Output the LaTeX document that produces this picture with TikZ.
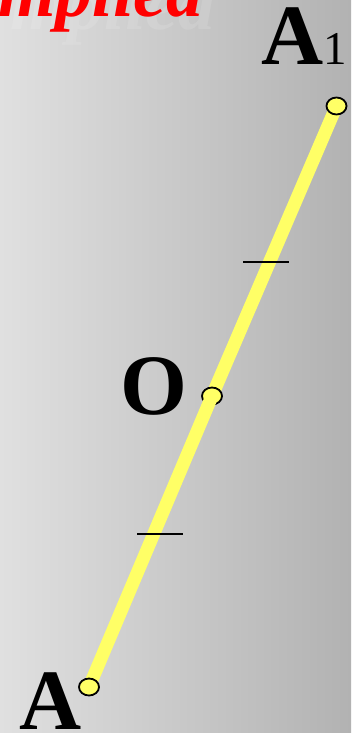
\documentclass[tikz,border=0pt]{standalone}
\usepackage{fontspec}
\setmainfont{Liberation Serif}
\usepackage{xcolor}
\definecolor{ptyellow}{RGB}{255,255,102}
\definecolor{bgleft}{RGB}{224,224,224}
\definecolor{bgright}{RGB}{178,178,178}
\definecolor{titlered}{RGB}{255,0,0}
\usetikzlibrary{shapes.geometric}

\begin{document}
\begin{tikzpicture}[x=1pt, y=-1pt,
  ptmark/.style={ellipse, draw=black, line width=1.8pt, fill=ptyellow, minimum width=20pt, minimum height=17pt, inner sep=0pt},
  seg/.style={ptyellow, line width=13pt},
  tickmark/.style={black, line width=1.6pt},
  lbl/.style={font=\fontsize{86}{86}\selectfont\bfseries, inner sep=0pt, anchor=base west}]
  % Background
  \useasboundingbox (0,0) rectangle (351,733);
  \shade[left color=bgleft, right color=bgright] (0,0) rectangle (351,733);

  % Title, cut off at the top
  \node[font=\fontsize{74}{74}\selectfont\bfseries\itshape, text=white, opacity=0.12, inner sep=0pt, anchor=base west] (titleshadow) at (10,30) {mplied};
  \node[font=\fontsize{74}{74}\selectfont\bfseries\itshape, text=titlered, inner sep=0pt, anchor=base west] (title) at (-2,17) {mplied};

  % Segment A A1 with midpoint O
  \coordinate (a1) at (336.5,106);
  \coordinate (o) at (212,396);
  \coordinate (a) at (89,687);
  \draw[seg] (a1) -- (o);
  \node[ptmark] (O) at (o) {};
  \draw[seg] (o) -- (a);
  \node[ptmark] (A) at (a) {};
  \node[ptmark] (A1) at (a1) {};

  % Equal-length marks
  \coordinate (m1) at (266,262);
  \coordinate (m2) at (160,534);
  \draw[tickmark] ([xshift=-23pt]m1) -- ([xshift=23pt]m1);
  \draw[tickmark] ([xshift=-23pt]m2) -- ([xshift=23pt]m2);

  % Labels
  \node[lbl] (labA1) at (261,65) {A{\fontsize{47}{47}\selectfont\mdseries 1}};
  \node[lbl] (labO) at (120,414) {O};
  \node[lbl] (labA) at (19,729) {A};
\end{tikzpicture}
\end{document}
